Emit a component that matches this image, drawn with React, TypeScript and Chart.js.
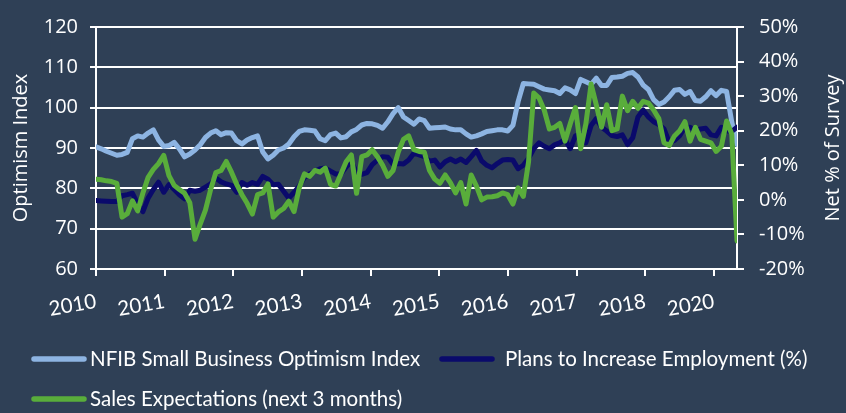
import { useEffect, useRef } from "react";
import { Chart, registerables } from "chart.js";

Chart.register(...registerables);

// ---- data (monthly, Jan 2010 - Apr 2020) ----
const xTickLabels = ["2010", "2011", "2012", "2013", "2014", "2015", "2016", "2017", "2018", "2020"];
const monthsPerTick = 13.18;

const optimismIndex = [
  90.3, 89.8, 89.2, 88.7, 88.2, 88.4, 88.9, 92.3, 93.0, 92.7, 93.7, 94.5,
  92.0, 90.4, 90.6, 91.4, 89.8, 87.8, 88.5, 89.5, 90.8, 92.6, 93.7, 94.3,
  93.3, 93.8, 93.7, 91.8, 91.0, 92.0, 92.6, 93.0, 89.0, 87.3, 88.2, 89.5,
  90.0, 91.0, 92.8, 94.1, 94.5, 94.4, 94.2, 92.3, 91.8, 93.3, 93.7, 92.5,
  92.8, 94.0, 94.6, 95.7, 96.1, 96.0, 95.6, 94.9, 96.5, 98.5, 100.0, 97.7,
  96.8, 95.9, 97.2, 96.8, 94.9, 95.0, 95.1, 95.2, 94.7, 94.5, 94.5, 93.5,
  92.7, 93.0, 93.5, 94.1, 94.3, 94.5, 94.5, 94.2, 95.6, 101.5, 106.0, 105.9,
  105.8, 105.2, 104.6, 104.4, 104.2, 103.5, 104.9, 104.4, 103.5, 107.0, 106.4, 105.8,
  107.3, 105.5, 105.5, 107.5, 107.6, 107.8, 108.5, 108.7, 107.6, 105.6, 104.5, 102.0,
  100.8, 101.4, 102.7, 104.3, 104.5, 103.3, 104.0, 101.8, 101.6, 102.7, 104.2, 103.0,
  104.3, 104.0, 96.4, 90.9,
];

const hiringPlans = [
  -0.2, -0.3, -0.4, -0.5, -0.5, 1.2, 1.5, 1.9, -1.2, -3.4, 0.5, 3.0,
  5.1, 2.2, 4.4, 3.0, 1.5, 0.3, 2.8, 2.5, 2.8, 3.7, 4.6, 6.3,
  5.2, 4.6, 4.2, 2.2, 5.0, 4.2, 5.0, 4.5, 6.8, 6.0, 4.4, 4.5,
  2.5, 0.5, 2.2, 4.0, 6.5, 7.5, 8.3, 9.0, 9.2, 8.3, 7.5, 7.5,
  9.5, 11.0, 8.0, 7.4, 7.9, 10.2, 11.5, 12.5, 12.3, 10.3, 10.5, 10.4,
  11.5, 13.5, 13.0, 12.5, 11.2, 11.5, 9.5, 11.0, 11.8, 11.0, 11.8, 10.8,
  12.5, 14.3, 11.3, 10.0, 9.3, 10.5, 11.5, 11.7, 11.5, 9.0, 10.0, 12.0,
  14.8, 16.5, 15.5, 14.8, 15.9, 16.5, 17.5, 14.8, 18.5, 19.0, 16.5, 21.5,
  23.5, 21.0, 19.9, 18.6, 18.3, 18.8, 16.0, 18.0, 24.0, 26.0, 24.0, 22.6,
  21.8, 20.5, 16.6, 17.2, 18.6, 21.0, 21.0, 20.0, 20.5, 20.7, 18.8, 18.5,
  21.0, 20.0, 19.8, 21.0,
];

const salesExpectations = [
  6.0, 5.8, 5.5, 5.3, 4.8, -5.0, -4.0, -0.3, -3.2, 2.0, 6.5, 8.8,
  10.5, 12.9, 7.0, 4.2, 3.0, 1.9, -0.8, -11.4, -7.0, -3.0, 3.0, 7.9,
  8.5, 11.1, 8.0, 4.5, 1.5, -1.0, -4.1, 1.5, 2.0, 4.6, -5.0, -3.5,
  -2.5, -0.4, -3.4, 3.5, 7.5, 6.8, 8.5, 8.0, 9.2, 4.5, 4.0, 7.5,
  11.0, 13.0, 1.9, 12.5, 13.0, 14.5, 12.5, 10.0, 6.8, 8.5, 13.8, 17.5,
  18.5, 14.5, 14.0, 13.8, 8.5, 6.0, 4.8, 7.2, 5.0, 2.0, 5.0, -1.2,
  7.2, 4.0, 0.0, 0.8, 0.9, 1.2, 2.0, 1.5, -1.2, 3.5, 1.0, 11.0,
  30.9, 29.5, 26.0, 20.5, 21.0, 22.1, 17.0, 22.0, 26.7, 14.8, 22.0, 33.5,
  27.5, 21.0, 27.5, 20.0, 20.5, 30.0, 25.8, 28.5, 26.5, 28.5, 28.0, 26.0,
  23.5, 16.5, 15.7, 18.5, 20.0, 22.6, 17.0, 21.0, 17.5, 17.0, 16.5, 14.0,
  15.5, 22.8, 19.0, -11.9,
];

const seriesNames = [
  "NFIB Small Business Optimism Index",
  "Plans to Increase Employment (%)",
  "Sales Expectations (next 3 months)",
];
const seriesColors = ["#8DB4E2", "#0A0A6B", "#59AD3B"];
const leftTitle = "Optimism Index";
const rightTitle = "Net % of Survey";

// ---- styling ----
const BG = "#2F4056";
const TEXT = "#FFFFFF";
const AXIS_FONT = "Open Sans";
const LABEL_FONT = "Lato";
const legendLayout = [
  { x: 32, y: 359, tx: 90 },
  { x: 440, y: 359, tx: 505 },
  { x: 32, y: 399, tx: 90 },
];

const overlayPlugin = {
  id: "overlay",
  afterDraw(chart: any) {
    const ctx = chart.ctx as CanvasRenderingContext2D;
    const area = chart.chartArea;
    ctx.save();
    ctx.translate(833, (area.top + area.bottom) / 2);
    ctx.rotate(-Math.PI / 2);
    ctx.font = `20px "${AXIS_FONT}"`;
    ctx.fillStyle = TEXT;
    ctx.textAlign = "center";
    ctx.textBaseline = "middle";
    ctx.fillText(rightTitle, 0, 0);
    ctx.restore();

    ctx.save();
    ctx.font = `20.5px "${LABEL_FONT}"`;
    ctx.textBaseline = "middle";
    ctx.textAlign = "left";
    seriesNames.forEach((name, i) => {
      const p = legendLayout[i];
      ctx.strokeStyle = seriesColors[i];
      ctx.lineWidth = 5.5;
      ctx.lineCap = "round";
      ctx.beginPath();
      ctx.moveTo(p.x + 2, p.y);
      ctx.lineTo(p.x + 52, p.y);
      ctx.stroke();
      ctx.fillStyle = TEXT;
      ctx.fillText(name, p.tx, p.y);
    });
    ctx.restore();
  },
};

export default function App() {
  const ref = useRef<HTMLCanvasElement | null>(null);

  useEffect(() => {
    if (!ref.current) return;
    const toPts = (arr: number[]) => arr.map((v, i) => ({ x: i, y: v }));
    const lineCommon = {
      pointRadius: 0,
      borderWidth: 5,
      tension: 0,
      borderJoinStyle: "round" as const,
      borderCapStyle: "round" as const,
      fill: false,
    };
    const chart = new Chart(ref.current, {
      type: "line",
      data: {
        datasets: [
          { ...lineCommon, label: seriesNames[0], data: toPts(optimismIndex), borderColor: seriesColors[0], yAxisID: "yL", order: 2 },
          { ...lineCommon, label: seriesNames[1], data: toPts(hiringPlans), borderColor: seriesColors[1], yAxisID: "yR", order: 1 },
          { ...lineCommon, label: seriesNames[2], data: toPts(salesExpectations), borderColor: seriesColors[2], yAxisID: "yR", order: 0 },
        ],
      },
      options: {
        animation: false,
        responsive: false,
        layout: { padding: { left: 0, right: 0, top: 16, bottom: 94 } },
        plugins: { legend: { display: false }, tooltip: { enabled: false } },
        scales: {
          x: {
            type: "linear",
            min: 0,
            max: optimismIndex.length - 1,
            afterBuildTicks: (s: any) => {
              s.ticks = xTickLabels.map((_, k) => ({ value: k * monthsPerTick }));
            },
            afterFit: (s: any) => {
              s.height = 50;
            },
            ticks: {
              autoSkip: false,
              minRotation: 10,
              maxRotation: 10,
              padding: 13,
              color: TEXT,
              font: { family: LABEL_FONT, size: 20.5 },
              callback: (_v: any, i: number) => xTickLabels[i],
            },
            grid: { drawOnChartArea: false, color: "#FFFFFF", lineWidth: 2, tickLength: 7 },
            border: { color: "#FFFFFF", width: 2 },
          },
          yL: {
            position: "left",
            min: 60,
            max: 120,
            afterFit: (s: any) => {
              s.width = 96;
            },
            ticks: { stepSize: 10, padding: 12, color: TEXT, font: { family: AXIS_FONT, size: 20 } },
            grid: { color: "#FFFFFF", lineWidth: 2, tickLength: 6 },
            border: { color: "#FFFFFF", width: 2 },
            title: {
              display: true,
              text: leftTitle,
              color: TEXT,
              font: { family: AXIS_FONT, size: 20 },
              padding: { top: 9, bottom: 0 },
            },
          },
          yR: {
            position: "right",
            min: -20,
            max: 50,
            afterFit: (s: any) => {
              s.width = 109;
            },
            ticks: {
              stepSize: 10,
              padding: 15,
              color: TEXT,
              font: { family: AXIS_FONT, size: 20 },
              callback: (v: any) => `${v}%`,
            },
            grid: { drawOnChartArea: false, color: "#FFFFFF", lineWidth: 2, tickLength: 7 },
            border: { color: "#FFFFFF", width: 2 },
          },
        },
      },
      plugins: [overlayPlugin],
    } as any);
    return () => chart.destroy();
  }, []);

  return (
    <div style={{ position: "fixed", left: 0, top: 0, width: 846, height: 413, background: BG }}>
      <canvas ref={ref} width={846} height={413} style={{ display: "block" }} />
    </div>
  );
}
